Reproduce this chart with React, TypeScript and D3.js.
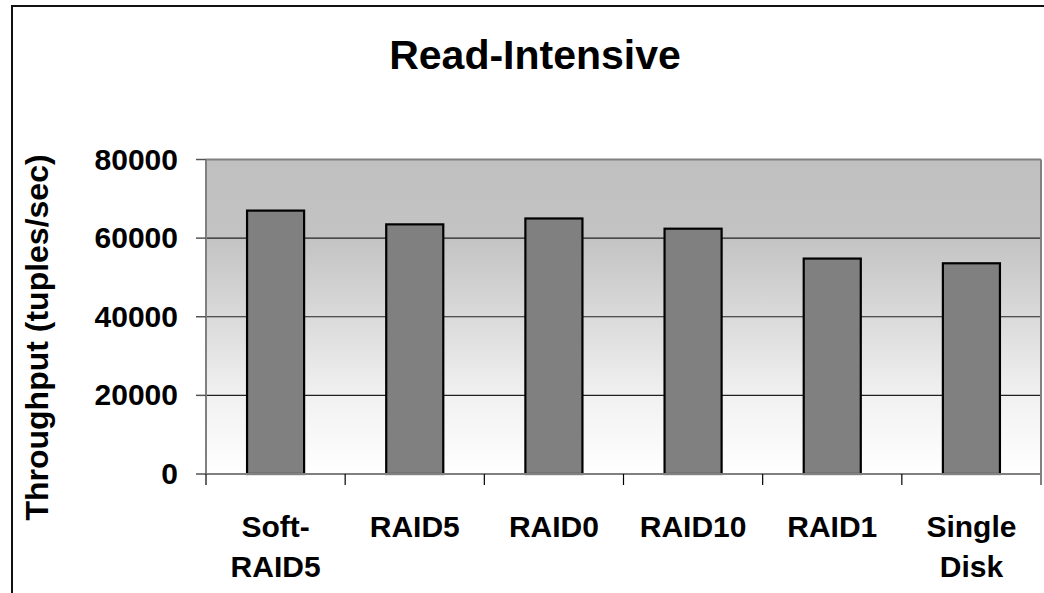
import React from 'react';
import * as d3 from 'd3';

const categories = [['Soft-', 'RAID5'], ['RAID5'], ['RAID0'], ['RAID10'], ['RAID1'], ['Single', 'Disk']];
const throughput = [67000, 63500, 65000, 62400, 54800, 53600];
const yTicks = [0, 20000, 40000, 60000, 80000];

const font = 'Arial, "Liberation Sans", Helvetica, sans-serif';

const App = () => {
  const W = 1044;
  const H = 593;
  const left = 206;
  const right = 1041;
  const top = 159.5;
  const bottom = 474;

  const x = d3
    .scaleBand()
    .domain(categories.map((c, i) => String(i)))
    .range([left, right])
    .padding(0);
  const y = d3.scaleLinear().domain([0, 80000]).range([bottom, top]);
  const barW = x.bandwidth() * 0.41;

  return (
    <svg
      width={W}
      height={H}
      style={{ position: 'absolute', left: 0, top: 0, background: '#fff' }}
    >
      <defs>
        <linearGradient id="plotBg" x1="0" y1="0" x2="0" y2="1">
          <stop offset="0" stopColor="#c0c0c0" />
          <stop offset="0.25" stopColor="#c3c3c3" />
          <stop offset="0.5" stopColor="#dadada" />
          <stop offset="0.75" stopColor="#f1f1f1" />
          <stop offset="1" stopColor="#ffffff" />
        </linearGradient>
      </defs>

      {/* outer chart frame */}
      <rect x={12} y={6} width={W + 20} height={H + 20} fill="none" stroke="#111" strokeWidth={2} />

      <text
        x={535}
        y={69}
        textAnchor="middle"
        fontFamily={font}
        fontWeight="bold"
        fontSize={41}
      >
        Read-Intensive
      </text>

      {/* plot area */}
      <rect x={left} y={top} width={right - left} height={bottom - top} fill="url(#plotBg)" />

      {yTicks
        .filter((t) => t > 0 && t < 80000)
        .map((t) => (
          <line key={t} x1={left} x2={right} y1={y(t)} y2={y(t)} stroke="#222" strokeWidth={1.2} />
        ))}

      <line x1={left} x2={right} y1={top} y2={top} stroke="#808080" strokeWidth={2} />
      <line x1={right} x2={right} y1={top} y2={bottom + 11} stroke="#808080" strokeWidth={2} />

      {/* bars */}
      {throughput.map((v, i) => (
        <rect
          key={i}
          x={x(String(i)) + (x.bandwidth() - barW) / 2}
          y={y(v)}
          width={barW}
          height={y(0) - y(v)}
          fill="#808080"
          stroke="#000"
          strokeWidth={2.2}
        />
      ))}

      {/* axes */}
      <line x1={left} x2={left} y1={top} y2={bottom} stroke="#808080" strokeWidth={2} />
      <line x1={left} x2={right} y1={bottom} y2={bottom} stroke="#808080" strokeWidth={2} />

      {yTicks.map((t) => (
        <g key={t}>
          <line x1={left - 10} x2={left} y1={y(t)} y2={y(t)} stroke="#555" strokeWidth={1.5} />
          <text
            x={178}
            y={y(t) + 10}
            textAnchor="end"
            fontFamily={font}
            fontWeight="bold"
            fontSize={30}
          >
            {t}
          </text>
        </g>
      ))}

      {categories.map((c, i) => (
        <line
          key={'t' + i}
          x1={x(String(i))}
          x2={x(String(i))}
          y1={bottom}
          y2={bottom + 11}
          stroke="#000"
          strokeWidth={1.2}
        />
      ))}

      {categories.map((lines, i) => (
        <text
          key={'c' + i}
          x={x(String(i)) + x.bandwidth() / 2}
          y={537}
          textAnchor="middle"
          fontFamily={font}
          fontWeight="bold"
          fontSize={30}
        >
          {lines.map((l, j) => (
            <tspan key={j} x={x(String(i)) + x.bandwidth() / 2} dy={j === 0 ? 0 : 40}>
              {l}
            </tspan>
          ))}
        </text>
      ))}

      <text
        transform={`translate(48, ${(153 + 522) / 2}) rotate(-90)`}
        textAnchor="middle"
        fontFamily={font}
        fontWeight="bold"
        fontSize={32}
      >
        Throughput (tuples/sec)
      </text>
    </svg>
  );
};

export default App;
